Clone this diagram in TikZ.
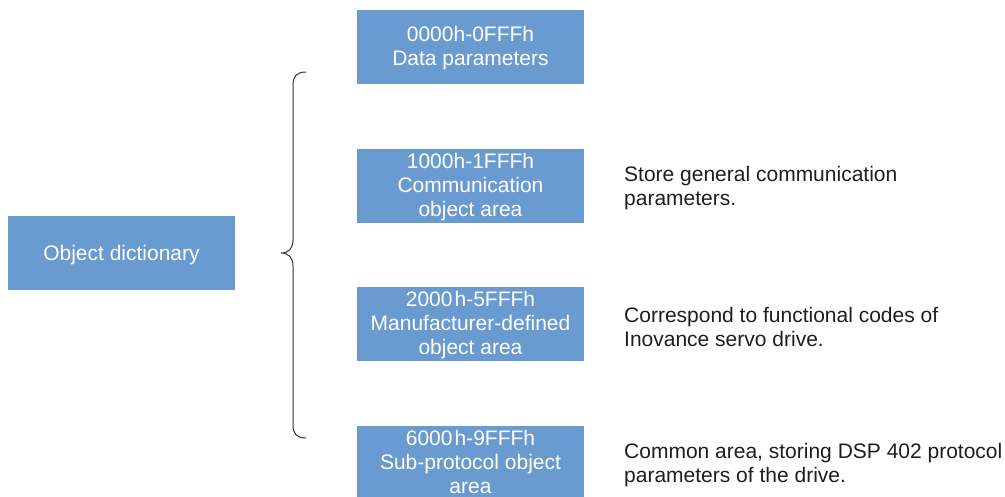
\documentclass[tikz,border=0pt]{standalone}
\usepackage{fontspec}
\setmainfont{Liberation Sans}
\definecolor{boxblue}{HTML}{6A9BD0}
\definecolor{txtdark}{HTML}{1E1E1E}
\begin{document}
\begin{tikzpicture}[x=1pt,y=-1pt,
  blk/.style={fill=boxblue,draw=none,minimum width=227pt,minimum height=74pt,inner sep=0pt},
  blktxt/.style={text=white,align=center,inner sep=0pt,font=\fontsize{21}{24}\selectfont},
  note/.style={anchor=west,align=left,text=txtdark,inner sep=0pt,font=\fontsize{21}{24}\selectfont},
  bracel/.style={draw=black!80,line width=1pt}]
\useasboundingbox (0,0) rectangle (1005,496);
\clip (0,0) rectangle (1005,496);
\node[blk] (od) at (121.5,253) {};
\node[blktxt] (tod) at (121.5,255) {Object dictionary};
\node[blk] (b1) at (470.5,47) {};
\node[blktxt] (t1) at (470.5,48.5) {0000h-0FFFh\\Data parameters};
\node[blk] (b2) at (470.5,186) {};
\node[blktxt] (t2) at (470.5,187.5) {1000h-1FFFh\\Communication\\object area};
\node[blk] (b3) at (470.5,324) {};
\node[blktxt] (t3) at (470.5,325.5) {2000\kern2pt h-5FFFh\\Manufacturer-defined\\object area};
\node[blk] (b4) at (470.5,463) {};
\node[blktxt] (t4) at (470.5,462) {6000\kern2pt h-9FFFh\\Sub-protocol object\\area};
\node[note] (n2) at (624,188.5) {Store general communication\\parameters.};
\node[note] (n3) at (624,326.5) {Correspond to functional codes of\\Inovance servo drive.};
\node[note] (n4) at (624,465) {Common area, storing DSP 402 protocol\\parameters of the drive.};
\coordinate (tip) at (281,253);
\draw[bracel] (306,72) .. controls (297,72) and (293,76) .. (293,85)
  -- (293,240) .. controls (293,248) and (289,253) .. (tip)
  .. controls (289,253) and (293,258) .. (293,266)
  -- (293,425) .. controls (293,434) and (297,438) .. (306,438);
\end{tikzpicture}
\end{document}
